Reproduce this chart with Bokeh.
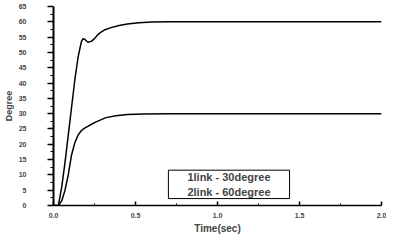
from bokeh.plotting import figure
from bokeh.models import Range1d, FixedTicker, Label
from bokeh.embed import file_html
from bokeh.resources import INLINE

# 2link - 60 degree response
t_60 = [0, 0.03, 0.05, 0.07, 0.09, 0.11, 0.13, 0.15, 0.17, 0.18, 0.19, 0.21, 0.23,
        0.25, 0.27, 0.29, 0.31, 0.35, 0.40, 0.45, 0.52, 0.60, 0.70, 2.0]
deg_60 = [0, 0, 6, 14, 23, 32, 41, 48.5, 53.5, 54.5, 54.3, 53.3, 53.6,
          54.5, 55.8, 56.6, 57.3, 58.1, 58.8, 59.3, 59.7, 59.9, 60, 60]

# 1link - 30 degree response
t_30 = [0, 0.03, 0.05, 0.07, 0.09, 0.11, 0.13, 0.15, 0.17, 0.19, 0.22, 0.26,
        0.32, 0.38, 0.45, 0.55, 0.70, 2.0]
deg_30 = [0, 0, 1.5, 5, 10, 16.5, 20.5, 23, 24.5, 25.3, 26.2, 27.3,
          28.7, 29.3, 29.7, 29.9, 30, 30]

x_ticks = [0, 0.5, 1.0, 1.5, 2.0]
x_tick_labels = ["0.0", "0.5", "1.0", "1.5", "2.0"]
y_ticks = [0, 5, 10, 15, 20, 25, 30, 35, 40, 45, 50, 55, 60, 65]
legend_lines = ["1link - 30degree", "2link - 60degree"]
x_title = "Time(sec)"
y_title = "Degree"

FONT = "Liberation Sans"

p = figure(width=386, height=236, output_backend="svg", toolbar_location=None,
           x_range=Range1d(0, 2.0), y_range=Range1d(0, 65),
           min_border_left=45, min_border_right=5, min_border_top=6,
           min_border_bottom=31)
p.outline_line_color = None
p.grid.visible = False
p.background_fill_color = "white"
p.border_fill_color = "white"

p.line(t_60, deg_60, line_color="black", line_width=1.5)
p.line(t_30, deg_30, line_color="black", line_width=1.5)

# x axis
xa = p.xaxis[0]
xa.ticker = FixedTicker(ticks=x_ticks, minor_ticks=[0.25, 0.75, 1.25, 1.75])
xa.major_label_overrides = {t: l for t, l in zip(x_ticks, x_tick_labels)}
xa.major_tick_in = 4
xa.major_tick_out = 0
xa.minor_tick_in = 2
xa.minor_tick_out = 0
xa.axis_line_width = 1.5
xa.major_tick_line_width = 1.5
xa.major_label_standoff = 7
xa.major_label_text_font = FONT
xa.major_label_text_font_style = "bold"
xa.major_label_text_font_size = "7px"
xa.axis_label = x_title
xa.axis_label_text_font = FONT
xa.axis_label_text_font_style = "bold"
xa.axis_label_text_font_size = "10px"
xa.axis_label_standoff = 2

# y axis
ya = p.yaxis[0]
ya.ticker = FixedTicker(ticks=y_ticks, minor_ticks=[v + 2.5 for v in y_ticks[:-1]])
ya.major_tick_in = 0
ya.major_tick_out = 6
ya.minor_tick_in = 0
ya.minor_tick_out = 3
ya.axis_line_width = 2
ya.major_tick_line_width = 1.5
ya.major_label_standoff = 21
ya.major_label_orientation = "horizontal"
ya.major_label_text_font = FONT
ya.major_label_text_font_style = "bold"
ya.major_label_text_font_size = "7px"
ya.axis_label = y_title
ya.axis_label_text_font = FONT
ya.axis_label_text_font_style = "bold"
ya.axis_label_text_font_size = "9px"
ya.axis_label_standoff = 2

legend = Label(x=1.07, y=6.9, x_units="data", y_units="data",
               text="\n".join(legend_lines), text_align="center",
               text_baseline="middle",
               text_font=FONT, text_font_style="bold", text_font_size="11px",
               border_line_color="black", border_line_width=1,
               background_fill_color="white", padding=(19, 1))
p.add_layout(legend)

open("out.html", "w").write(file_html(p, INLINE))
